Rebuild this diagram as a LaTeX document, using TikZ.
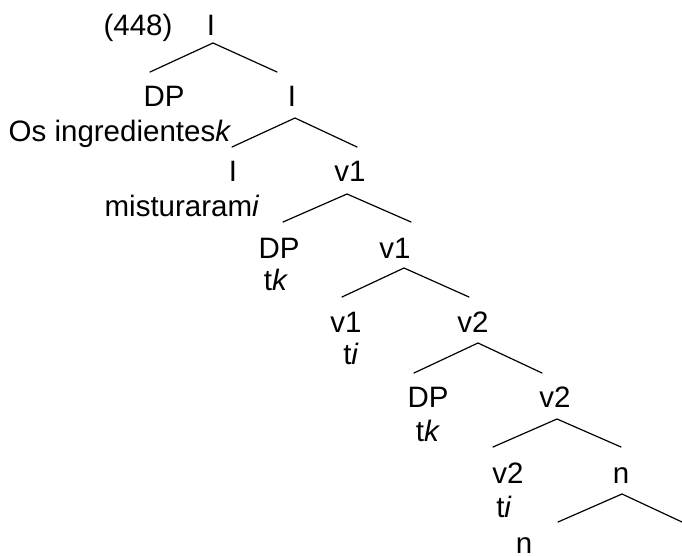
\documentclass[tikz,border=0pt]{standalone}
\usepackage{fontspec}
\setmainfont{Liberation Sans}
\begin{document}
\begin{tikzpicture}[x=1pt,y=-1pt,
  lbl/.style={anchor=base,inner sep=0pt,font=\fontsize{29.5}{34}\selectfont},
  branch/.style={line width=1.2pt,line cap=round}]
\useasboundingbox (0,0) rectangle (682,556);
% labels
\node[lbl] (ex) at (138,36) {(448)};
\node[lbl] (r) at (211,36) {I};
\node[lbl] (dp1) at (164,107) {DP};
\node[lbl] (i1) at (292,107) {I};
\node[lbl] (os) at (120,142) {Os ingredientes\textit{k}};
\node[lbl] (i2) at (233,182) {I};
\node[lbl] (v1a) at (350,182) {v1};
\node[lbl] (mis) at (182,216) {misturaram\textit{i}};
\node[lbl] (dp3) at (279,258) {DP};
\node[lbl] (tk1) at (276,290) {t\textit{k}};
\node[lbl] (v1b) at (395,258) {v1};
\node[lbl] (v1c) at (346,332) {v1};
\node[lbl] (ti1) at (351,364) {t\textit{i}};
\node[lbl] (v2a) at (473,332) {v2};
\node[lbl] (dp5) at (428,407) {DP};
\node[lbl] (tk2) at (428,441) {t\textit{k}};
\node[lbl] (v2b) at (555,407) {v2};
\node[lbl] (v2c) at (508,483) {v2};
\node[lbl] (ti2) at (504,517) {t\textit{i}};
\node[lbl] (n1) at (621,483) {n};
\node[lbl] (n2) at (524,553) {n};
% branch points
\coordinate (a0) at (213,43); \coordinate (l0) at (150,72); \coordinate (r0) at (277,72);
\coordinate (a1) at (295,118); \coordinate (l1) at (232,147); \coordinate (r1) at (357,147);
\coordinate (a2) at (347,194); \coordinate (l2) at (283,222); \coordinate (r2) at (411,222);
\coordinate (a3) at (404,268); \coordinate (l3) at (342,297); \coordinate (r3) at (469,297);
\coordinate (a4) at (478,343); \coordinate (l4) at (414,373); \coordinate (r4) at (542,373);
\coordinate (a5) at (557,419); \coordinate (l5) at (493,447); \coordinate (r5) at (621,447);
\coordinate (a6) at (622,494); \coordinate (l6) at (558,522); \coordinate (r6) at (682,522);
\foreach \k in {0,...,6}{
  \draw[branch] (l\k) -- (a\k) -- (r\k);
}
\end{tikzpicture}
\end{document}
